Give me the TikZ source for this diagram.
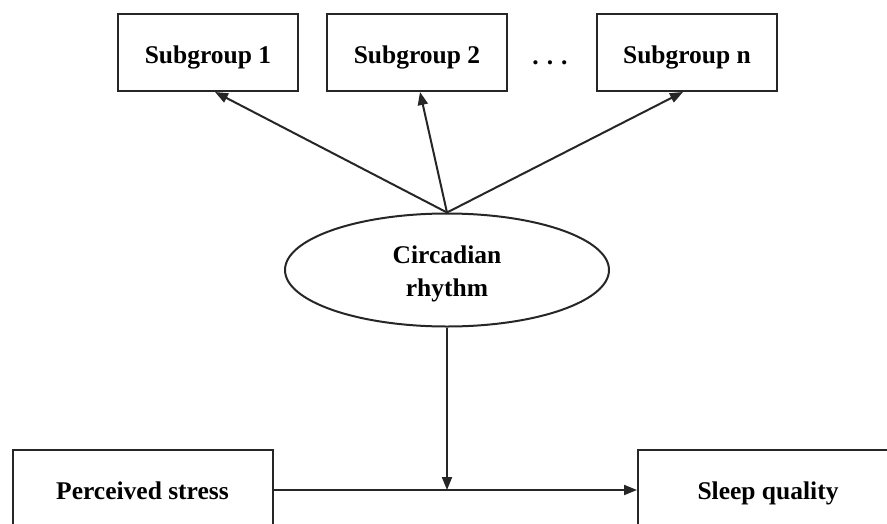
\documentclass[tikz,border=0pt]{standalone}
\usepackage{fontspec}
\setmainfont{Liberation Serif}
\usetikzlibrary{shapes.geometric,arrows.meta,calc}
\begin{document}
\begin{tikzpicture}[x=1pt,y=-1pt,
  lbl/.style={font=\fontsize{25.5}{33}\selectfont\bfseries},
  box/.style={lbl,draw=black!85,line width=2pt,minimum width=180pt,minimum height=77pt,inner sep=0pt,text height=24pt,text depth=3pt},
  bigbox/.style={lbl,draw=black!85,line width=2pt,minimum width=260pt,minimum height=80pt,inner sep=0pt,text height=22pt,text depth=4pt},
  conn/.style={draw=black!85,line width=2pt,-{Triangle[length=13pt,width=10pt]}}]
\useasboundingbox (0,0) rectangle (887,523);
\node[box] (sg1) at (208,52.5) {Subgroup 1};
\node[box] (sg2) at (417,52.5) {Subgroup 2};
\node[box] (sgn) at (687,52.5) {Subgroup n};
\node[lbl,inner sep=0pt,anchor=base] (dots) at (550,64) {.\hspace{8pt}.\hspace{8pt}.};
\node[lbl,ellipse,draw=black!85,line width=2pt,minimum width=324pt,minimum height=113pt,inner sep=0pt,align=center] (ell) at (447,270) {\rule{0pt}{26pt}Circadian\\rhythm};
\node[bigbox] (ps) at (142.5,490) {Perceived stress};
\node[bigbox] (sq) at (768,490) {Sleep quality};
\draw[conn] (ell.north) -- ([xshift=7pt]sg1.south);
\draw[conn] (ell.north) -- ([xshift=3pt]sg2.south);
\draw[conn] (ell.north) -- ([xshift=-4pt]sgn.south);
\coordinate (mid) at (ell.south |- ps.east);
\draw[conn] (ell.south) -- (mid);
\draw[conn] (ps.east) -- (sq.west);
\end{tikzpicture}
\end{document}
